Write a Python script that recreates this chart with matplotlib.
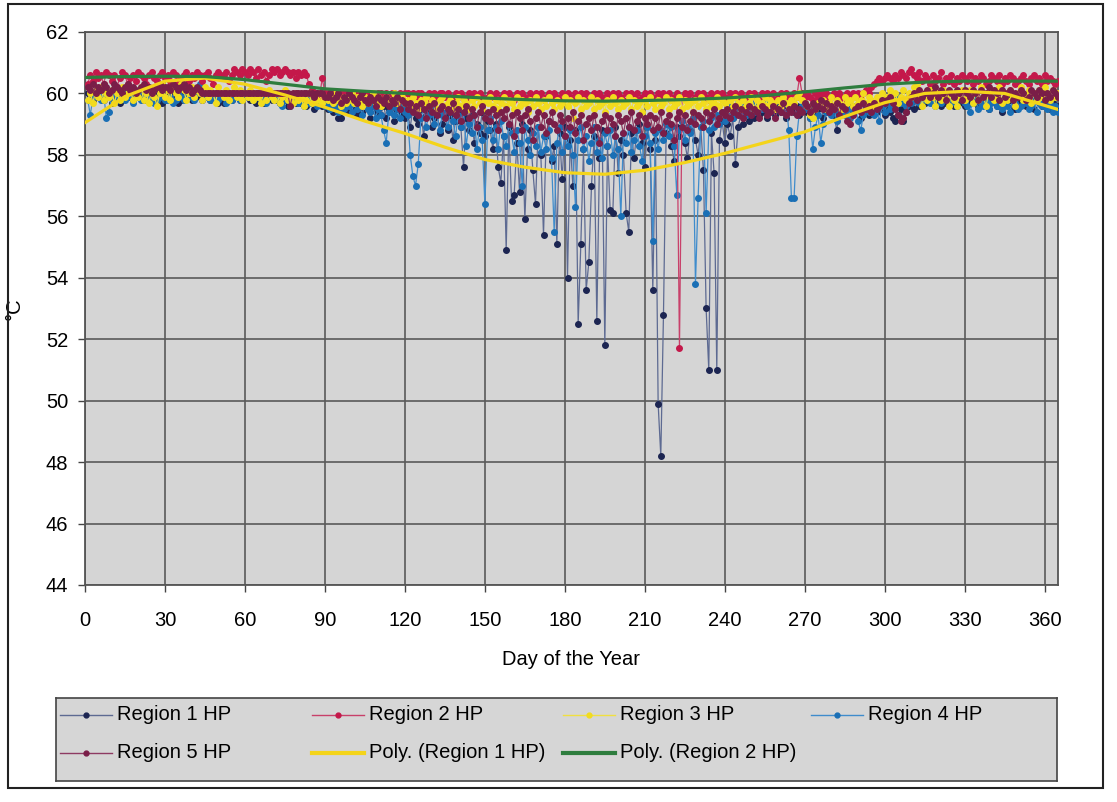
import numpy as np
import matplotlib
matplotlib.use("Agg")
import matplotlib.pyplot as plt
from matplotlib.patches import Rectangle

plt.rcParams['font.family'] = ['Liberation Sans', 'DejaVu Sans']

# daily hot-water temperatures (deg C), day 1..365
region1_hp = [
    60.0,59.9,59.8,60.0,59.9,60.1,59.8,59.9,60.0,59.7, 59.9,60.0,59.7,59.8,60.0,59.9,60.1,59.8,59.9,60.0, 59.9,59.8,60.0,60.1,59.9,59.8,60.0,59.9,59.7,59.8,
    59.9,60.0,59.8,59.9,59.7,59.8,60.0,59.9,60.0,59.8, 59.9,60.1,59.9,59.8,60.0,59.9,59.8,59.9,60.0,59.7, 59.8,59.7,59.9,60.0,59.8,59.9,60.0,59.8,59.9,60.0,
    59.9,59.8,60.0,59.7,59.9,59.8,59.7,59.9,60.0,59.8, 59.9,59.8,59.7,59.9,59.8,59.6,59.8,59.9,59.7,59.8, 59.7,59.9,59.6,59.8,59.7,59.5,59.7,59.8,59.6,59.7,
    59.5,59.7,59.4,59.6,59.2,59.2,59.5,59.6,59.4,59.7, 59.5,59.3,59.6,59.4,59.7,59.5,59.2,59.6,59.4,59.5, 59.3,59.6,59.2,59.5,59.4,59.1,59.5,59.3,59.6,59.2,
    59.4,58.9,59.5,59.2,59.0,59.5,58.6,59.3,59.4,58.9, 59.2,59.5,58.7,59.0,59.4,58.8,59.3,58.5,59.1,59.4, 58.9,57.6,59.2,58.8,59.3,58.4,59.0,58.7,59.4,58.6,
    59.1,58.8,58.2,59.0,57.6,57.1,58.6,54.9,58.9,56.5, 56.7,58.4,56.8,59.0,55.9,58.2,58.8,57.5,56.4,58.9, 58.0,55.4,58.6,59.1,57.8,58.3,55.1,58.7,57.2,58.9,
    54.0,58.5,57.0,58.8,52.5,55.1,58.2,53.6,54.5,57.0, 58.6,52.6,57.9,58.8,51.8,58.3,56.2,56.1,58.9,57.4, 58.5,58.0,56.1,55.5,58.7,57.9,58.8,59.0,58.4,57.6,
    58.9,58.2,53.6,58.5,49.9,48.2,52.8,58.7,59.0,58.3, 57.8,58.9,58.6,59.1,58.4,57.9,58.8,59.2,58.5,58.0, 58.9,57.5,53.0,51.0,58.7,57.4,51.0,58.5,59.1,58.4,
    59.0,58.6,59.2,57.7,58.9,59.3,59.0,59.4,59.1,59.5, 59.2,59.6,59.3,59.4,59.7,59.2,59.5,59.6,59.3,59.7, 59.4,59.6,59.2,59.5,59.7,59.4,59.6,59.3,59.5,59.7,
    59.4,59.2,59.6,59.3,59.5,59.6,59.2,59.4,59.7,59.5, 59.3,58.8,59.4,59.6,59.5,59.3,59.7,59.4,59.6,59.5, 59.2,59.4,59.6,59.3,59.5,59.7,59.4,59.6,59.5,59.3,
    59.6,59.4,59.2,59.1,59.3,59.5,59.1,59.4,59.6,59.7, 59.5,59.8,59.6,59.9,59.7,59.8,60.0,59.7,59.9,59.8, 59.6,59.9,59.7,60.0,59.8,59.6,59.9,59.7,59.8,59.6,
    59.9,59.7,59.8,60.0,59.6,59.8,59.9,59.7,59.5,59.8, 59.9,59.6,59.8,59.4,59.7,59.9,59.8,59.6,59.5,59.8, 59.7,59.9,59.6,59.8,59.7,59.5,59.8,59.9,59.6,59.7,
    59.8,59.5,59.7,59.9,59.6,
]
region2_hp = [
    60.3,60.6,60.4,60.7,60.5,60.6,60.3,60.7,60.6,60.4, 60.6,60.2,60.5,60.7,60.6,60.3,60.5,60.6,60.4,60.7, 60.6,60.5,60.3,60.6,60.7,60.5,60.4,60.6,60.7,60.5,
    60.6,60.4,60.7,60.6,60.3,60.5,60.6,60.7,60.4,60.6, 60.5,60.7,60.6,60.4,60.6,60.7,60.5,60.3,60.6,60.7, 60.6,60.5,60.7,60.4,60.6,60.8,60.7,60.6,60.8,60.7,
    60.6,60.8,60.7,60.5,60.8,60.6,60.7,60.4,60.6,60.8, 60.7,60.8,60.6,60.7,60.8,60.7,60.6,60.7,60.5,60.7, 60.6,60.7,60.6,60.3,60.1,60.0,60.0,59.9,60.5,60.0,
    60.0,59.9,60.0,60.0,59.9,60.0,59.9,60.0,60.0,59.9, 60.0,60.0,59.9,59.9,60.0,60.0,59.9,60.0,59.9,60.0, 60.0,59.9,60.0,59.9,60.0,60.0,59.9,60.0,59.9,60.0,
    60.0,59.9,60.0,59.9,60.0,60.0,59.9,59.8,60.0,59.9, 60.0,59.9,60.0,60.0,59.9,60.0,59.8,59.9,60.0,59.9, 60.0,59.9,59.8,60.0,59.9,60.0,59.9,60.0,59.9,59.8,
    59.9,60.0,59.9,60.0,59.8,59.9,60.0,59.9,60.0,59.9, 59.8,60.0,59.9,60.0,59.9,59.8,60.0,59.9,60.0,59.9, 60.0,59.8,59.9,60.0,59.9,60.0,59.9,59.8,60.0,59.9,
    60.0,59.9,59.8,60.0,59.9,60.0,59.9,60.0,59.8,59.9, 60.0,59.9,60.0,59.9,59.8,60.0,59.9,60.0,59.9,60.0, 59.9,59.8,60.0,59.9,60.0,59.9,60.0,59.8,59.9,60.0,
    59.9,60.0,59.9,59.8,60.0,59.9,60.0,59.9,60.0,59.8, 59.9,60.0,51.7,59.9,60.0,59.9,60.0,59.8,59.9,60.0, 59.9,60.0,59.9,59.8,60.0,59.9,60.0,59.9,60.0,59.9,
    59.8,60.0,59.9,60.0,59.9,60.0,59.8,59.9,60.0,59.9, 60.0,59.9,59.8,60.0,59.9,60.0,59.9,60.0,59.8,59.9, 60.0,59.9,60.0,59.9,59.8,60.0,59.9,60.5,60.0,59.9,
    60.0,59.9,59.8,60.0,59.9,60.0,59.9,60.0,59.8,59.9, 60.0,59.9,60.0,59.9,59.8,60.0,59.9,60.0,59.9,60.0, 59.9,60.0,60.1,60.0,60.2,60.3,60.4,60.5,60.4,60.5,
    60.6,60.5,60.4,60.6,60.5,60.7,60.6,60.5,60.7,60.8, 60.6,60.5,60.7,60.4,60.6,60.5,60.3,60.6,60.4,60.5, 60.7,60.3,60.5,60.4,60.6,60.3,60.5,60.4,60.6,60.5,
    60.4,60.6,60.3,60.5,60.4,60.6,60.5,60.3,60.4,60.6, 60.5,60.4,60.6,60.3,60.5,60.4,60.6,60.5,60.3,60.4, 60.5,60.6,60.4,60.3,60.5,60.6,60.4,60.5,60.3,60.6,
    60.4,60.5,60.4,60.3,60.4,
]
region3_hp = [
    59.8,60.0,59.7,60.1,59.9,60.2,59.8,60.0,59.9,60.1, 59.7,60.0,59.8,60.2,59.9,60.0,60.1,59.8,60.0,59.9, 60.2,59.8,60.0,59.7,60.1,59.9,59.6,60.0,60.3,59.9,
    60.1,59.8,60.2,60.0,59.9,60.3,60.1,59.8,60.0,60.2, 59.9,60.1,60.0,59.8,60.2,59.9,60.1,60.0,59.7,60.2, 60.0,59.9,60.1,59.8,60.0,60.2,59.9,60.1,59.8,60.0,
    59.9,60.1,59.8,60.0,59.9,59.7,60.0,59.8,60.1,59.9, 59.8,60.0,59.7,59.9,60.1,59.8,59.9,59.7,60.0,59.8, 59.9,59.6,59.8,60.0,59.7,59.9,59.8,60.0,59.7,59.9,
    59.8,59.9,59.7,60.0,59.8,59.6,59.9,59.7,59.8,60.0, 59.7,59.9,59.8,59.6,59.9,59.7,59.8,60.0,59.7,59.9, 59.6,59.8,59.9,59.7,59.8,60.0,59.7,59.8,59.9,59.7,
    59.8,59.6,59.9,59.7,59.5,59.8,59.7,59.9,59.6,59.8, 59.7,59.5,59.8,59.9,59.6,59.7,59.8,59.5,59.7,59.9, 59.6,59.8,59.7,59.5,59.8,59.6,59.9,59.7,59.5,59.8,
    59.7,59.9,59.6,59.8,59.5,59.7,59.9,59.6,59.8,59.7, 59.5,59.9,59.6,59.8,59.7,59.4,59.8,59.6,59.9,59.7, 59.5,59.8,59.6,59.9,59.7,59.5,59.8,59.6,59.7,59.9,
    59.6,59.8,59.2,59.7,59.9,59.5,59.8,59.6,59.7,59.9, 59.5,59.8,59.6,59.7,59.4,59.8,59.6,59.9,59.7,59.5, 59.8,59.6,59.7,59.9,59.5,59.8,59.6,59.7,59.4,59.8,
    59.6,59.9,59.7,59.5,59.8,59.6,59.7,59.9,59.5,59.8, 59.6,59.7,59.9,59.5,59.8,59.6,59.7,59.4,59.8,59.6, 59.9,59.7,59.5,59.8,59.6,59.7,59.9,59.6,59.8,59.7,
    59.5,59.8,59.6,59.9,59.7,59.5,59.8,59.6,59.7,59.9, 59.5,59.8,59.6,59.7,59.9,59.6,59.8,59.7,59.5,59.8, 59.6,59.9,59.7,59.6,59.8,59.7,59.9,60.0,59.8,59.7,
    59.6,59.3,59.2,59.5,59.7,59.6,59.8,59.5,59.7,59.9, 59.6,59.8,59.7,59.5,59.9,59.7,59.8,59.6,59.9,59.7, 59.8,60.0,59.7,59.9,59.8,59.6,59.9,59.7,60.0,59.8,
    59.9,60.1,59.8,60.0,59.7,59.9,60.1,59.8,60.0,59.9, 60.2,60.3,59.9,59.6,60.0,59.8,60.1,59.9,59.6,60.0, 59.8,60.1,59.9,59.6,60.0,59.8,59.6,59.9,60.1,59.8,
    59.9,60.1,59.7,60.0,59.8,60.2,59.9,59.6,60.0,60.1, 59.8,59.9,60.2,59.7,60.0,59.8,60.1,59.9,59.6,60.0, 60.2,59.8,59.9,60.1,59.7,60.0,59.8,60.1,59.9,60.2,
    60.0,59.8,60.1,59.9,60.0,
]
region4_hp = [
    59.8,59.3,59.9,60.0,59.9,59.8,60.0,59.2,59.4,59.9, 60.0,59.8,59.9,60.1,59.8,59.9,60.0,59.7,59.9,60.0, 59.8,59.9,60.0,59.8,59.9,59.7,59.8,60.0,59.9,59.8,
    59.8,59.9,59.7,59.8,60.0,59.9,59.8,60.0,59.9,60.1, 59.8,60.0,60.3,60.2,59.9,60.0,59.8,59.9,60.0,59.8, 59.9,60.0,59.7,59.9,59.8,60.0,59.9,59.8,59.9,60.0,
    59.9,60.0,59.8,59.9,60.0,59.8,59.9,59.7,59.9,60.0, 59.8,59.9,59.7,59.6,59.8,59.9,59.6,59.8,59.9,59.7, 59.8,59.6,59.9,59.7,59.8,59.9,59.6,59.7,59.8,59.6,
    59.7,59.5,59.8,59.6,59.4,59.7,59.5,59.8,59.6,59.4, 59.7,59.5,59.6,59.3,59.7,59.5,59.4,59.6,59.2,59.5, 59.3,58.8,58.4,59.4,59.6,59.3,59.5,59.2,59.6,59.4,
    59.3,58.0,57.3,57.0,57.7,59.2,59.5,58.9,59.3,59.6, 59.0,59.4,58.8,59.3,59.5,58.9,59.4,59.1,58.6,59.3, 58.9,59.4,58.3,59.0,58.7,59.3,58.2,58.9,58.5,56.4,
    58.8,59.2,58.5,58.9,58.2,59.1,58.6,58.3,59.0,58.7, 58.1,58.8,58.4,57.0,58.9,58.5,58.0,58.7,58.3,58.9, 58.1,58.6,58.2,58.8,57.9,55.5,58.4,58.9,58.1,58.6,
    58.3,58.8,58.0,56.3,58.5,58.9,58.2,58.6,57.8,58.4, 58.9,58.1,58.5,57.9,58.7,58.3,58.8,58.0,58.6,58.2, 56.0,58.7,58.4,58.9,58.1,58.5,58.8,58.3,57.8,58.6,
    58.9,58.4,55.2,58.7,58.2,58.8,58.5,59.0,58.6,58.9, 58.3,56.7,58.8,59.1,58.5,58.9,58.7,59.2,53.8,56.6, 58.9,59.1,56.1,58.8,59.2,58.9,59.3,59.0,59.4,59.1,
    59.3,59.6,59.2,59.5,59.7,59.4,59.6,59.3,59.5,59.7, 59.4,59.6,59.8,59.5,59.7,59.6,59.4,59.7,59.5,59.8, 59.6,59.4,59.7,58.8,56.6,56.6,58.6,59.4,59.6,59.5,
    59.5,59.2,58.2,58.9,59.3,58.4,59.0,59.4,59.6,59.3, 59.5,59.1,59.4,59.6,59.3,59.5,59.2,59.4,59.6,59.1, 58.8,59.3,59.5,59.4,59.6,59.3,59.5,59.1,59.6,59.4,
    59.7,59.5,59.8,59.6,59.9,59.7,59.8,59.6,59.9,59.7, 59.8,60.0,59.7,59.9,59.8,60.0,59.7,59.8,59.6,59.9, 59.7,59.8,60.0,59.9,59.7,59.8,59.6,59.9,59.8,59.7,
    59.6,59.4,59.7,59.8,59.5,59.7,59.6,59.8,59.5,59.7, 59.9,59.6,59.8,59.5,59.7,59.6,59.4,59.8,59.7,59.5, 59.6,59.8,59.7,59.5,59.6,59.8,59.4,59.7,59.6,59.8,
    59.5,59.7,59.4,59.6,59.4,
]
region5_hp = [
    60.2,60.1,60.3,60.0,60.2,60.1,60.3,60.2,60.0,60.1, 60.3,60.2,60.1,60.0,60.2,60.3,60.1,60.2,60.0,60.1, 60.2,60.3,60.1,60.2,60.0,60.1,60.2,60.3,60.1,60.2,
    60.2,60.1,60.3,60.2,60.1,60.2,60.3,60.1,60.2,60.0, 60.1,60.2,60.1,60.0,60.0,60.0,60.0,60.0,60.0,60.0, 60.0,60.0,60.0,60.0,60.0,60.0,60.0,60.0,60.0,60.0,
    60.0,60.0,60.0,60.0,60.0,60.0,60.0,60.0,60.0,60.0, 60.0,60.0,60.0,60.0,60.0,60.0,59.6,60.0,60.0,60.0, 60.0,60.0,60.0,60.0,60.0,59.9,60.0,60.0,60.0,59.9,
    59.9,60.0,59.8,59.9,60.0,59.7,59.9,59.8,60.0,59.9, 59.8,59.7,59.9,60.0,59.8,59.7,59.9,59.8,59.6,59.9, 59.8,59.7,59.9,59.6,59.8,59.7,59.9,59.5,59.8,59.7,
    59.5,59.7,59.4,59.6,59.3,59.7,59.5,59.2,59.6,59.4, 59.7,59.3,59.5,59.6,59.2,59.5,59.4,59.7,59.3,59.5, 59.1,59.4,59.6,59.2,59.5,59.3,58.9,59.4,59.6,59.2,
    59.4,59.1,59.5,59.3,58.8,59.4,59.2,59.5,59.0,59.3, 58.6,59.4,59.2,58.8,59.3,59.5,59.1,58.5,59.2,59.4, 58.9,59.3,58.7,59.1,59.4,59.0,58.8,59.3,59.1,58.6,
    59.2,58.9,59.4,58.7,59.1,59.3,58.5,59.0,59.2,58.8, 59.3,58.9,58.4,59.1,59.3,58.8,59.2,59.0,58.6,59.3, 59.1,58.7,59.2,58.9,59.4,58.8,59.1,59.3,58.6,59.2,
    59.0,59.3,58.8,59.2,58.9,59.4,58.7,59.1,59.3,59.0, 58.5,59.2,59.4,58.9,59.3,58.8,59.1,59.4,59.0,59.3, 59.2,58.9,59.4,59.1,59.3,59.5,59.0,59.2,59.4,59.3,
    59.5,59.2,59.4,59.6,59.3,59.5,59.2,59.4,59.6,59.3, 59.5,59.4,59.2,59.6,59.5,59.3,59.4,59.6,59.2,59.5, 59.4,59.7,59.3,59.5,59.4,59.6,59.3,59.5,59.4,59.7,
    59.6,59.4,59.7,59.5,59.6,59.8,59.5,59.7,59.4,59.6, 59.5,59.7,59.3,59.6,59.5,59.1,59.0,59.3,59.5,59.6, 59.4,59.7,59.5,59.6,59.4,59.7,59.5,59.6,59.8,59.7,
    59.8,59.9,59.7,59.5,59.3,59.1,59.2,59.4,59.7,59.9, 60.0,59.8,60.1,59.9,60.0,60.1,59.9,60.0,60.2,59.9, 60.1,60.0,59.8,60.1,60.0,59.9,60.1,60.0,59.8,60.1,
    60.0,59.9,60.1,60.0,59.8,60.1,59.9,60.0,60.2,59.9, 60.1,60.0,59.8,60.1,59.9,60.0,60.1,59.8,60.0,59.9, 60.1,60.0,59.8,59.9,60.1,60.0,59.9,60.1,60.0,59.8,
    60.0,59.9,60.1,60.0,59.9,
]
for s in (region1_hp, region2_hp, region3_hp, region4_hp, region5_hp):
    assert len(s) == 365, len(s)
days = np.arange(1, 366)

# polynomial trend lines
poly_days = [0, 15, 30, 45, 60, 75, 90, 105, 120, 135, 150, 165, 180,
             195, 210, 225, 240, 255, 270, 285, 300, 315, 330, 345, 365]
poly_region1 = [59.05, 59.9, 60.4, 60.5, 60.3, 59.95, 59.55, 59.1, 58.7, 58.25, 57.85, 57.6, 57.42,
                57.37, 57.5, 57.75, 58.05, 58.4, 58.75, 59.25, 59.7, 60.0, 60.07, 60.0, 59.48]
poly_region2 = [60.52, 60.55, 60.56, 60.55, 60.45, 60.3, 60.15, 60.07, 60.0, 59.92, 59.85, 59.8, 59.76,
                59.75, 59.77, 59.8, 59.85, 59.93, 60.05, 60.18, 60.3, 60.37, 60.4, 60.4, 60.4]

labels = ["Region 1 HP", "Region 2 HP", "Region 3 HP", "Region 4 HP", "Region 5 HP",
          "Poly. (Region 1 HP)", "Poly. (Region 2 HP)"]
# (line colour, marker colour)
colors = [("#5d6a92", "#1c2552"), ("#c8406a", "#c4184a"), ("#f0e040", "#f2dc1e"),
          ("#3f8ccc", "#1a6fb5"), ("#8e3a62", "#7a1e48")]
trend_colors = ["#f4d41a", "#2e7d3e"]
layers = [3, 3.2, 3.25, 3.1, 3.3]

W, H = 1117, 802
fig = plt.figure(figsize=(W / 100, H / 100), dpi=100)
ax = fig.add_axes([85 / W, 1 - 585 / H, 973 / W, 553 / H])
ax.set_facecolor("#d5d5d5")

data = [region1_hp, region2_hp, region3_hp, region4_hp, region5_hp]
for vals, (lc, mc), lab, z in zip(data, colors, labels, layers):
    ax.plot(days, vals, color=lc, lw=0.9, marker="o", ms=4, mfc=mc, mec=mc, label=lab, zorder=z)
ax.plot(poly_days, poly_region1, color=trend_colors[0], lw=2.3, zorder=4)
ax.plot(poly_days, poly_region2, color=trend_colors[1], lw=2.3, zorder=4)

ax.set_xlim(0, 365)
ax.set_ylim(44, 62)
ax.set_xticks(range(0, 361, 30))
ax.set_yticks(range(44, 63, 2))
ax.grid(color="#5a5a5a", lw=1.2)
ax.set_axisbelow(True)
for sp in ax.spines.values():
    sp.set_color("#555555")
    sp.set_linewidth(1.3)
ax.tick_params(direction="out", length=5, width=1, color="#444444", labelsize=14.5, labelcolor="#000000")
ax.tick_params(axis="x", pad=14)
ax.tick_params(axis="y", pad=7)
ax.set_xlabel("Day of the Year", fontsize=14.5, color="#000000", va="top")
ax.xaxis.set_label_coords(0.5, -0.117)
ax.set_ylabel("°C", fontsize=14.5, color="#000000")
ax.yaxis.set_label_coords(-0.063, 0.5)

# legend box drawn in its own pixel-scaled axes
lg = fig.add_axes([56 / W, 1 - 781 / H, 1001 / W, 83 / H])
lg.set_xlim(0, 1001)
lg.set_ylim(83, 0)
lg.set_facecolor("#d6d6d6")
lg.set_xticks([])
lg.set_yticks([])
for sp in lg.spines.values():
    sp.set_color("#444444")
    sp.set_linewidth(1.2)
col_x = [4, 256, 507, 755]
row_y = [17, 55]
entries = [(0, 0, 0), (1, 0, 1), (2, 0, 2), (3, 0, 3), (4, 1, 0), (5, 1, 1), (6, 1, 2)]
for i, r, c in entries:
    x0 = col_x[c]
    y = row_y[r]
    if i < 5:
        lc, mc = colors[i]
        lg.plot([x0, x0 + 52], [y, y], color=lc, lw=1)
        lg.plot([x0 + 26], [y], marker="o", ms=3.5, color=mc)
    else:
        lg.plot([x0, x0 + 52], [y, y], color=trend_colors[i - 5], lw=3)
    lg.text(x0 + 57, y, labels[i], fontsize=14.5, color="#000000", va="center", ha="left")

# outer frame of the scanned chart
fig.add_artist(Rectangle((8 / W, 1 - 788 / H), 1095 / W, 784 / H, transform=fig.transFigure,
                         fill=False, ec="#222222", lw=1.5))

fig.savefig("out.png", dpi=100, facecolor="white")
